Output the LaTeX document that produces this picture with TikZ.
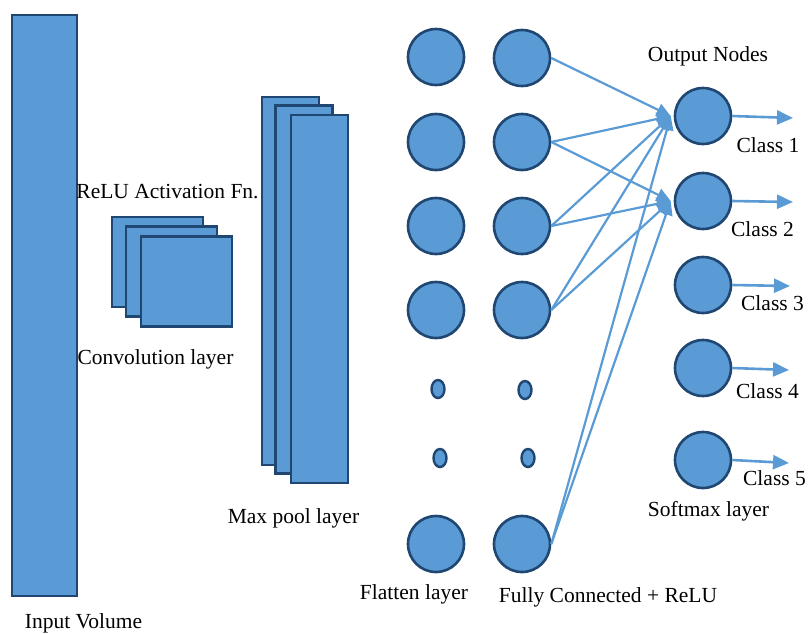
\documentclass[tikz,border=0pt]{standalone}
\usepackage{fontspec}
\setmainfont{Liberation Serif}
\usetikzlibrary{arrows.meta,shapes.geometric}
\definecolor{fillblue}{RGB}{91,155,213}
\definecolor{edgeblue}{RGB}{32,70,114}
\definecolor{lineblue}{RGB}{91,155,213}
\begin{document}
\begin{tikzpicture}[x=1pt,y=-1pt,
  box/.style={draw=edgeblue,fill=fillblue,line width=2.6pt,inner sep=0pt,outer sep=0pt},
  neuron/.style={circle,draw=edgeblue,fill=fillblue,line width=2.6pt,minimum size=56pt,inner sep=0pt},
  dotn/.style={ellipse,draw=edgeblue,fill=fillblue,line width=2.4pt,minimum width=13pt,minimum height=18pt,inner sep=0pt},
  lbl/.style={inner sep=0pt,font=\fontsize{21.5}{24}\selectfont},
  conn/.style={draw=lineblue,line width=2.2pt,-{Triangle[length=14pt,width=13pt]}},
  outarr/.style={draw=lineblue,line width=2.6pt,-{Triangle[length=16pt,width=14pt]}}]
\useasboundingbox (0,0) rectangle (808,633);
% input volume
\node[box,minimum width=65pt,minimum height=581pt] (inp) at (44.5,305.5) {};
\node[lbl] (inplbl) at (83.5,623) {Input Volume};
% convolution
\node[box,minimum width=91pt,minimum height=90pt] (c1) at (157.5,262) {};
\node[box,minimum width=91pt,minimum height=90pt] (c2) at (171.5,271.5) {};
\node[box,minimum width=91pt,minimum height=90pt] (c3) at (186.5,281.5) {};
\node[lbl] (relulbl) at (167.5,191.5) {ReLU Activation Fn.};
\node[lbl] (convlbl) at (155.5,359.5) {Convolution layer};
% max pool
\node[box,minimum width=57pt,minimum height=368pt] (m1) at (290.5,281) {};
\node[box,minimum width=57pt,minimum height=368pt] (m2) at (304,289.5) {};
\node[box,minimum width=57pt,minimum height=368pt] (m3) at (319.5,299) {};
\node[lbl] (maxlbl) at (293.5,518.5) {Max pool layer};
% flatten
\node[neuron] (f1) at (436,57) {};
\node[neuron] (f2) at (436,142) {};
\node[neuron] (f3) at (436,226) {};
\node[neuron] (f4) at (436,310) {};
\node[dotn] (fd1) at (438,389) {};
\node[dotn] (fd2) at (440,458) {};
\node[neuron] (f5) at (436,544) {};
\node[lbl] (flatlbl) at (414,594.5) {Flatten layer};
% fully connected
\node[neuron] (h1) at (522,58) {};
\node[neuron] (h2) at (522,142) {};
\node[neuron] (h3) at (522,226) {};
\node[neuron] (h4) at (522,310) {};
\node[dotn] (hd1) at (525,390) {};
\node[dotn] (hd2) at (528,458) {};
\node[neuron] (h5) at (522,544) {};
\node[lbl] (fclbl) at (608,597.5) {Fully Connected + ReLU};
% output
\node[neuron] (o1) at (703,116) {};
\node[neuron] (o2) at (703,201) {};
\node[neuron] (o3) at (703,285) {};
\node[neuron] (o4) at (703,368) {};
\node[neuron] (o5) at (703,460) {};
\node[lbl] (outlbl) at (708,56.5) {Output Nodes};
\node[lbl] (smlbl) at (708.5,511.5) {Softmax layer};
% class arrows
\coordinate (e1) at (793,118);
\coordinate (e2) at (793,202);
\coordinate (e3) at (790,286);
\coordinate (e4) at (789,370);
\coordinate (e5) at (789,463);
\draw[outarr] (o1.east) -- (e1);
\draw[outarr] (o2.east) -- (e2);
\draw[outarr] (o3.east) -- (e3);
\draw[outarr] (o4.east) -- (e4);
\draw[outarr] (o5.east) -- (e5);
\node[lbl] (cl1) at (768,145.5) {Class 1};
\node[lbl] (cl2) at (762.5,229.5) {Class 2};
\node[lbl] (cl3) at (772.5,303.5) {Class 3};
\node[lbl] (cl4) at (767.5,391.5) {Class 4};
\node[lbl] (cl5) at (774.5,478.5) {Class 5};
% connections
\coordinate (t1) at ([xshift=-3pt]o1.west);
\coordinate (t2) at ([xshift=-3pt]o2.west);
\draw[conn] (h1.east) -- (t1);
\draw[conn] (h2.east) -- (t1);
\draw[conn] (h2.east) -- (t2);
\draw[conn] (h3.east) -- (t1);
\draw[conn] (h3.east) -- (t2);
\draw[conn] (h4.east) -- (t1);
\draw[conn] (h4.east) -- (t2);
\draw[conn] (h5.east) -- (t1);
\draw[conn] (h5.east) -- (t2);
\end{tikzpicture}
\end{document}
